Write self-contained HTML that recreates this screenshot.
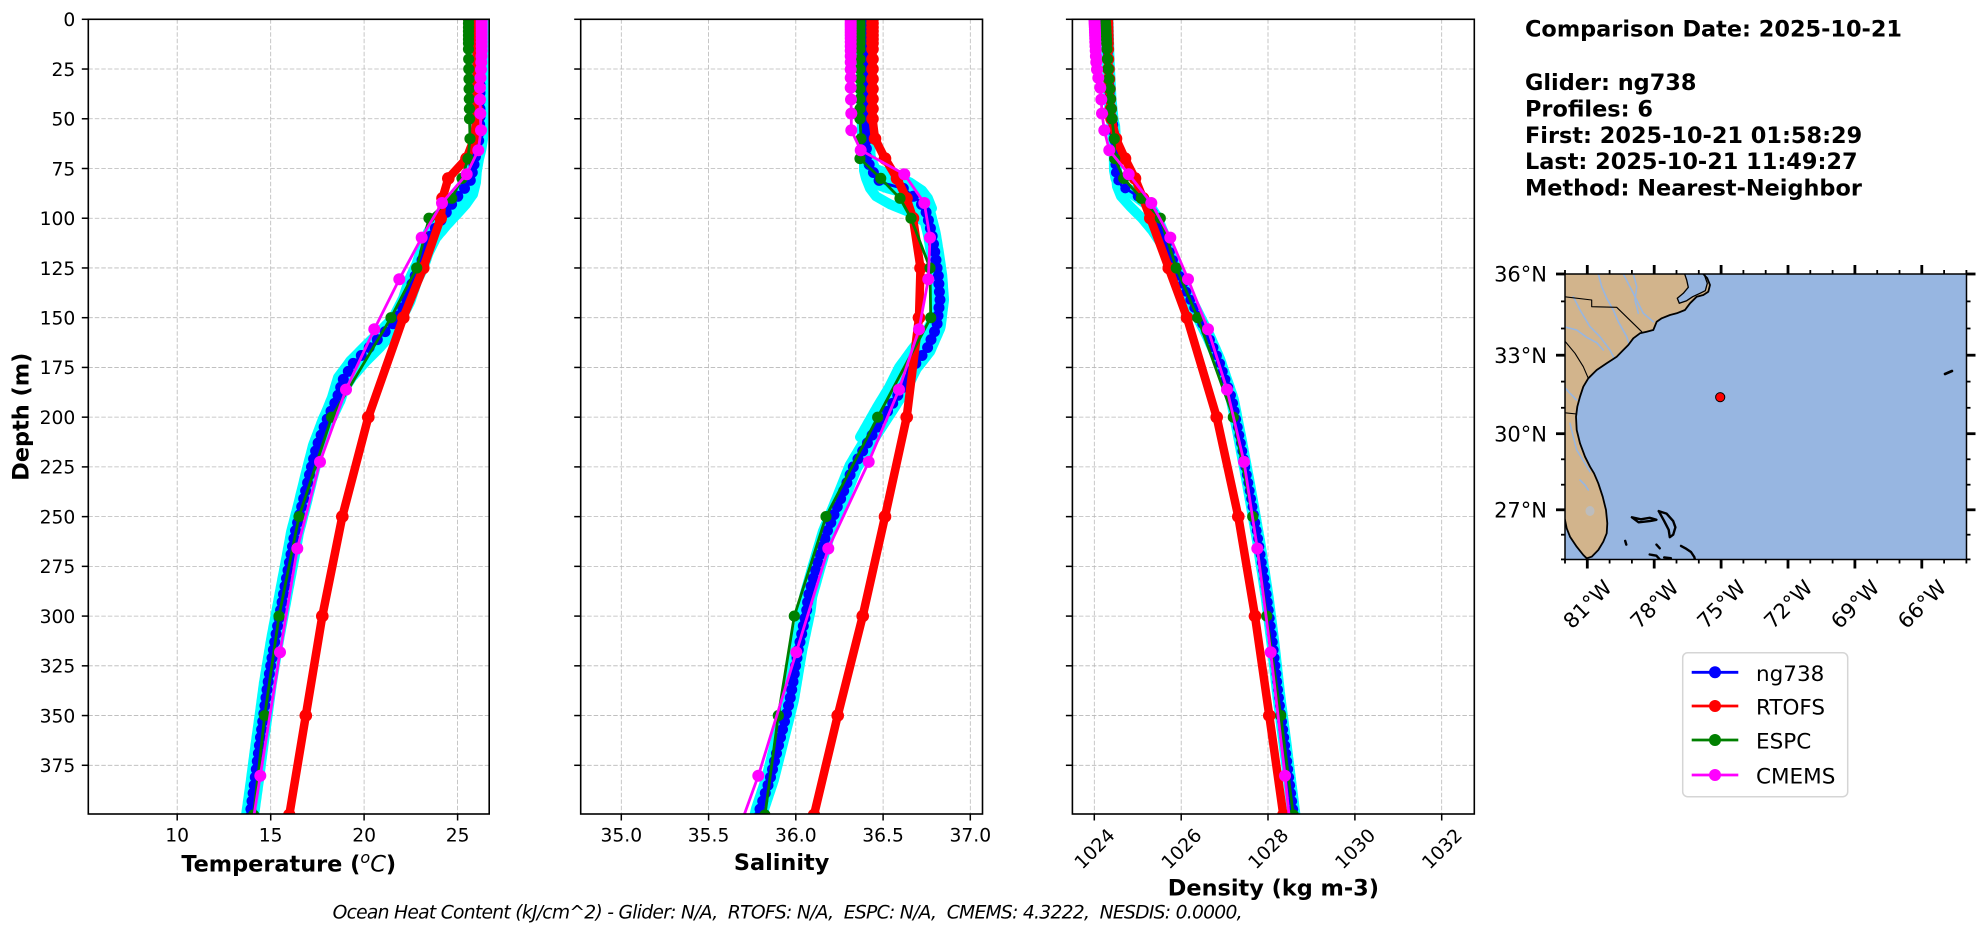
<!DOCTYPE html>
<html><head><meta charset="utf-8">
<style>
html,body{margin:0;padding:0;background:#fff;width:1978px;height:934px;overflow:hidden;}
svg{display:block;}
text{font-family:"DejaVu Sans","Liberation Sans",sans-serif;fill:#000;}
.t{font-size:18.7px;}
.lab{font-size:22.4px;font-weight:bold;}
.info{font-size:22.4px;font-weight:bold;}
.mt{font-size:21px;}
.lg{font-size:21.5px;}
</style></head><body>
<svg id="fig" xmlns="http://www.w3.org/2000/svg" width="1978" height="934" viewBox="0 0 1978 934">
<rect width="1978" height="934" fill="#fff"/>
<defs>
<clipPath id="c0"><rect x="88.3" y="19.3" width="400.9" height="794.7"/></clipPath>
<clipPath id="c1"><rect x="580.7" y="19.3" width="401.8" height="794.7"/></clipPath>
<clipPath id="c2"><rect x="1072.4" y="19.3" width="401.9" height="794.7"/></clipPath>
<clipPath id="cm"><rect x="1565" y="274" width="401.5" height="285.5"/></clipPath>
</defs>
<g id="grid" stroke="#b8b8b8" stroke-width="0.8" stroke-dasharray="4.5 2" fill="none"></g>
<g id="data0" clip-path="url(#c0)"></g>
<g id="data1" clip-path="url(#c1)"></g>
<g id="data2" clip-path="url(#c2)"></g>
<g fill="none" stroke="#000" stroke-width="1.6">
<rect x="88.3" y="19.3" width="400.9" height="794.7"/>
<rect x="580.7" y="19.3" width="401.8" height="794.7"/>
<rect x="1072.4" y="19.3" width="401.9" height="794.7"/>
</g>
<g id="ticks" stroke="#000" stroke-width="1.5"></g>

<!-- y tick labels -->
<g class="t" text-anchor="end">
<text x="75.3" y="26.1">0</text>
<text x="75.3" y="75.8">25</text>
<text x="75.3" y="125.6">50</text>
<text x="75.3" y="175.3">75</text>
<text x="75.3" y="225.0">100</text>
<text x="75.3" y="274.8">125</text>
<text x="75.3" y="324.5">150</text>
<text x="75.3" y="374.2">175</text>
<text x="75.3" y="424.0">200</text>
<text x="75.3" y="473.7">225</text>
<text x="75.3" y="523.4">250</text>
<text x="75.3" y="573.2">275</text>
<text x="75.3" y="622.9">300</text>
<text x="75.3" y="672.6">325</text>
<text x="75.3" y="722.4">350</text>
<text x="75.3" y="772.1">375</text>
</g>
<!-- x tick labels -->
<g class="t" text-anchor="middle">
<text x="177.2" y="841.7">10</text>
<text x="270.7" y="841.7">15</text>
<text x="364.1" y="841.7">20</text>
<text x="457.6" y="841.7">25</text>
<text x="621.3" y="841.7">35.0</text>
<text x="708.6" y="841.7">35.5</text>
<text x="795.8" y="841.7">36.0</text>
<text x="883.1" y="841.7">36.5</text>
<text x="970.3" y="841.7">37.0</text>
<text x="0" y="6.8" transform="translate(1094.3,848.5) rotate(-45)">1024</text>
<text x="0" y="6.8" transform="translate(1181.2,848.5) rotate(-45)">1026</text>
<text x="0" y="6.8" transform="translate(1268.0,848.5) rotate(-45)">1028</text>
<text x="0" y="6.8" transform="translate(1354.9,848.5) rotate(-45)">1030</text>
<text x="0" y="6.8" transform="translate(1441.7,848.5) rotate(-45)">1032</text>
</g>
<!-- axis labels -->
<text class="lab" x="0" y="0" text-anchor="middle" transform="translate(28.5,416.7) rotate(-90)">Depth (m)</text>
<text class="lab" x="288.7" y="871.7" text-anchor="middle">Temperature (<tspan font-style="italic" font-weight="normal" font-size="16" dy="-8.5">o</tspan><tspan font-style="italic" font-weight="normal" dy="8.5">C</tspan>)</text>
<text class="lab" x="781.6" y="870" text-anchor="middle">Salinity</text>
<text class="lab" x="1273.4" y="895.7" text-anchor="middle">Density (kg m-3)</text>

<text x="332.6" y="918.3" font-size="18.7" font-style="italic" style="white-space:pre" textLength="910" lengthAdjust="spacing">Ocean Heat Content (kJ/cm^2) - Glider: N/A,  RTOFS: N/A,  ESPC: N/A,  CMEMS: 4.3222,  NESDIS: 0.0000,</text>

<!-- info -->
<g class="info">
<text x="1525" y="36.7">Comparison Date: 2025-10-21</text>
<text x="1525" y="90">Glider: ng738</text>
<text x="1525" y="116.4">Profiles: 6</text>
<text x="1525" y="142.8">First: 2025-10-21 01:58:29</text>
<text x="1525" y="169.2">Last: 2025-10-21 11:49:27</text>
<text x="1525" y="195.6">Method: Nearest-Neighbor</text>
</g>

<!-- map -->
<g id="mapdata" clip-path="url(#cm)"></g>
<rect x="1565" y="274" width="401.5" height="285.5" fill="none" stroke="#000" stroke-width="1.5"/>
<g id="mapticks" stroke="#000"></g>
<g class="mt" text-anchor="end">
<text x="1547" y="281.6">36°N</text>
<text x="1547" y="362.8">33°N</text>
<text x="1547" y="441.3">30°N</text>
<text x="1547" y="517.4">27°N</text>
</g>
<g class="mt" text-anchor="middle">
<text x="0" y="7.6" transform="translate(1587.3,604) rotate(-45)">81°W</text>
<text x="0" y="7.6" transform="translate(1654.2,604) rotate(-45)">78°W</text>
<text x="0" y="7.6" transform="translate(1721.1,604) rotate(-45)">75°W</text>
<text x="0" y="7.6" transform="translate(1788.0,604) rotate(-45)">72°W</text>
<text x="0" y="7.6" transform="translate(1854.9,604) rotate(-45)">69°W</text>
<text x="0" y="7.6" transform="translate(1921.8,604) rotate(-45)">66°W</text>
</g>

<!-- legend -->
<rect x="1682.7" y="652.7" width="165" height="144" rx="5" fill="#fff" fill-opacity="0.8" stroke="#d5d5d5" stroke-width="1.5"/>
<g stroke-width="2.8">
<line x1="1691.7" x2="1738.3" y1="672.3" y2="672.3" stroke="#0000ff"/>
<line x1="1691.7" x2="1738.3" y1="706" y2="706" stroke="#ff0000"/>
<line x1="1691.7" x2="1738.3" y1="740" y2="740" stroke="#008000"/>
<line x1="1691.7" x2="1738.3" y1="775" y2="775" stroke="#ff00ff"/>
</g>
<circle cx="1715" cy="672.3" r="6" fill="#0000ff"/>
<circle cx="1715" cy="706" r="6" fill="#ff0000"/>
<circle cx="1715" cy="740" r="6" fill="#008000"/>
<circle cx="1715" cy="775" r="6" fill="#ff00ff"/>
<g class="lg">
<text x="1756" y="680.8">ng738</text>
<text x="1756" y="714.5">RTOFS</text>
<text x="1756" y="748.5">ESPC</text>
<text x="1756" y="783.5">CMEMS</text>
</g>
</svg>
<script>
(function(){
const NS='http://www.w3.org/2000/svg';
function mk(tag,a,p){const e=document.createElementNS(NS,tag);for(const k in a)e.setAttribute(k,a[k]);p.appendChild(e);return e;}
const Y=d=>19.3+d*1.9893;
const PAN=[[88.3,489.2],[580.7,982.5],[1072.4,1474.3]];
const XT=[[177.2,270.7,364.1,457.6],[621.3,708.6,795.8,883.1,970.3],[1094.3,1181.2,1268.0,1354.9,1441.7]];
const grid=document.getElementById('grid'),ticks=document.getElementById('ticks');
for(let p=0;p<3;p++){
  const x0=PAN[p][0],x1=PAN[p][1];
  for(let d=0;d<=375;d+=25){const y=Y(d).toFixed(2);
    mk('line',{x1:x0,x2:x1,y1:y,y2:y},grid);
    mk('line',{x1:x0-6.5,x2:x0,y1:y,y2:y},ticks);}
  for(const x of XT[p]){mk('line',{x1:x,x2:x,y1:19.3,y2:814},grid);mk('line',{x1:x,x2:x,y1:814,y2:820.5},ticks);}
}
function interp(arr,d){if(d<=arr[0][0])return arr[0][1];for(let i=1;i<arr.length;i++){if(d<=arr[i][0]){const a=arr[i-1],b=arr[i];return a[1]+(b[1]-a[1])*(d-a[0])/(b[0]-a[0]);}}const n=arr.length,a=arr[n-2],b=arr[n-1];return b[1]+(b[1]-a[1])*(d-b[0])/(b[0]-a[0]);}
function pstr(pts){return pts.map(p=>p[0].toFixed(1)+','+p[1].toFixed(1)).join(' ');}
function poly(pts,stroke,w,parent){mk('polyline',{points:pstr(pts),fill:'none',stroke:stroke,'stroke-width':w,'stroke-linejoin':'round','stroke-linecap':'round'},parent);}
const LV_H=[0,2,4,6,8,10,12,15,20,25,30,35,40,45,50,60,70,80,90,100,125,150,200,250,300,350,400];
const LV_C=[0.49,1.54,2.65,3.82,5.08,6.44,7.93,9.57,11.4,13.47,15.81,18.5,21.6,25.21,29.44,34.43,40.34,47.37,55.76,65.81,77.85,92.33,109.73,130.67,155.85,186.13,222.48,266.04,318.13,380.21,453.94];

const DATA=[
{ // temperature
G:[[0,480],[50,480],[60,479],[65,477.5],[70,475],[75,473.3],[81.6,470],[86.7,461.7],[91.7,453.3],[96.7,446.7],[101.7,440],[107.6,431.7],[115,426],[124,420],[131,413.3],[141,406.7],[151,396.7],[158,383.3],[164.6,370],[173,353.3],[181,343.3],[191,336.7],[201.5,326.7],[214.8,316.7],[228,310],[245,301.7],[258,295],[271.8,290],[285,285],[298.6,280],[312,275],[322,271.7],[333.8,267.9],[350.6,263.4],[367,258.9],[384,254.5],[397,250.9],[410,247.5]],
R:[[0,477],[50,476.5],[60,474],[70,466.5],[80,448.3],[90,442.5],[100,440.7],[125,423.3],[150,403.3],[200,368.3],[250,342.3],[300,322.3],[350,305.8],[400,289.3],[450,273]],
E:[[0,468.5],[15,468.5],[30,469],[50,469.5],[60,470],[70,468],[80,462],[90,451.7],[100,429],[125,416.7],[150,391],[200,331.7],[250,299],[300,279],[350,264.7],[400,253.6],[450,242]],
C:[[0,481.7],[15.81,481.7],[25.21,481],[34.43,480],[40.34,480],[47.37,480.3],[55.76,481],[65.81,478.3],[77.85,466.7],[92.33,442],[109.73,421.7],[130.67,399.3],[155.85,374.3],[186.13,346],[222.48,320],[266.04,297.3],[318.13,280],[380.21,260.3],[453.94,236.9]],
X:[[[60,479],[75,477],[82,476],[88,473],[93,466],[98,457],[104,446],[110,436],[118,428]],[[150,402],[158,392],[165,380],[172,366],[180,352],[188,342]],[[155,388],[165,366],[172,350],[180,338],[190,332],[200,324]]],
cw:18
},
{ // salinity
G:[[0,865],[40,865.3],[60,866],[69,866.7],[72,868.3],[75.8,871.7],[81.6,880],[83.3,890],[85,903.3],[89,913.3],[91.7,920],[97.5,926.7],[107.6,931.7],[117.6,935],[129,938.3],[141,940],[154.5,936.7],[166,926.7],[174.6,913.3],[184.7,903.3],[196.4,888.3],[208,873.3],[225,853.3],[241.7,840],[258,826.7],[275,816.7],[290,808.3],[297,806.7],[317,798.3],[342,790],[362,780],[382,770],[397,760],[410,754]],
R:[[0,872.5],[50,872.5],[60,875],[70,885],[80,897],[90,906.5],[100,913],[125,920.5],[150,919],[200,906.7],[250,885],[300,862.7],[350,837.7],[400,814],[450,790]],
E:[[0,860],[50,860],[60,861],[70,860],[80,880.7],[90,900],[100,911],[125,930],[150,930.7],[200,877.7],[250,826],[300,794.3],[350,778.3],[400,765],[450,752]],
C:[[0,850.7],[34.43,850.7],[40.34,851],[47.37,851.3],[55.76,851.3],[65.81,860.7],[77.85,904.3],[92.33,924.3],[109.73,930],[130.67,928.3],[155.85,919],[186.13,899],[222.48,868.7],[266.04,828.3],[318.13,796.3],[380.21,758.3],[453.94,705.4]],
X:[[[68,864],[76,864],[80,866],[85,870],[89,876],[93,890],[97,910],[102,925]],[[74,870],[78,890],[82,910],[86,922],[90,928],[95,932]],[[150,934],[158,925],[166,912],[175,899],[185,889],[195,877],[210,860]]],
cw:18
},
{ // density
G:[[0,1107],[20,1108],[40,1110],[50,1112],[54,1113.7],[70,1115.3],[76,1115.5],[80,1117],[84,1122],[87.5,1133.7],[92.5,1147],[99,1155.3],[111,1165.3],[124,1175.3],[137.7,1187],[149.5,1198.7],[159.5,1208.7],[171,1218.7],[188,1230.3],[191,1232.3],[208,1239],[233,1248.3],[262,1258.5],[291,1267.3],[316,1273.5],[341,1279],[366,1285.5],[391,1291.7],[410,1296.5]],
R:[[0,1107],[20,1108],[30,1109],[40,1110],[50,1111.5],[60,1116],[70,1125],[80,1135],[90,1143],[100,1150.3],[125,1168.7],[150,1187],[200,1216.7],[250,1238.3],[300,1255],[350,1269.3],[400,1283.3],[450,1297]],
E:[[0,1105.3],[10,1106.5],[20,1107.5],[30,1109],[40,1110.5],[50,1112],[60,1114.3],[70,1114.7],[80,1123.7],[90,1141.3],[100,1160.3],[125,1176.3],[150,1197.7],[200,1233.3],[250,1252.7],[300,1266.7],[350,1280.7],[400,1293.3],[450,1306]],
C:[[0,1094.5],[10,1095.2],[20,1096],[25.21,1097],[29.44,1098.3],[34.43,1100.3],[40.34,1101.3],[47.37,1102],[55.76,1104.3],[65.81,1109.3],[77.85,1128.7],[92.33,1151.3],[109.73,1170.3],[130.67,1188],[155.85,1208],[186.13,1227],[222.48,1244],[266.04,1257.3],[318.13,1270.7],[380.21,1285],[453.94,1300]],
X:[[[78,1116],[84,1117],[89,1121],[94,1130],[100,1142],[106,1152],[112,1160]]],
cw:13
}];

for(let p=0;p<3;p++){
  const D=DATA[p],g=document.getElementById('data'+p);
  const gp=[];for(let d=0;d<=412;d+=1)gp.push([interp(D.G,d),Y(d)]);
  poly(gp,'#00ffff',D.cw,g);
  for(const ex of D.X){const pts=[];for(let d=ex[0][0];d<=ex[ex.length-1][0];d+=1)pts.push([interp(ex,d),Y(d)]);poly(pts,'#00ffff',10,g);}
  poly(gp,'#0000ff',2.8,g);
  for(let d=1;d<=410;d+=4)mk('circle',{cx:interp(D.G,d).toFixed(1),cy:Y(d).toFixed(1),r:(p==2?5:5.5),fill:'#0000ff'},g);
  const lvR=LV_H.concat([450]);
  const rp=lvR.map(d=>[interp(D.R,d),Y(d)]);
  poly(rp,'#ff0000',8.5,g);
  for(const q of rp)mk('circle',{cx:q[0].toFixed(1),cy:q[1].toFixed(1),r:6.3,fill:'#ff0000'},g);
  const lvE=LV_H.concat([450]);
  const ep=lvE.map(d=>[interp(D.E,d),Y(d)]);
  poly(ep,'#008000',2.8,g);
  for(const q of ep)mk('circle',{cx:q[0].toFixed(1),cy:q[1].toFixed(1),r:5.6,fill:'#008000'},g);
  const cp=LV_C.map(d=>[interp(D.C,d),Y(d)]);
  poly(cp,'#ff00ff',2.8,g);
  for(const q of cp)mk('circle',{cx:q[0].toFixed(1),cy:q[1].toFixed(1),r:6,fill:'#ff00ff'},g);
}

// ---------- map ----------
const map=document.getElementById('mapdata'),mt=document.getElementById('mapticks');
const MX=lon=>1587.3+(lon+81)*22.3;
const merc=l=>Math.log(Math.tan(Math.PI/4+l*Math.PI/360));
const MY=lat=>274+1277.7*(merc(36)-merc(lat));
const Z=a=>[1470+a[0]/3,250+a[1]/3];
const G=a=>[MX(a[0]),MY(a[1])];
mk('rect',{x:1565,y:274,width:401.5,height:285.5,fill:'#97b6e1'},map);
const coast=[[700,72],[712,85],[720,105],[715,125],[700,135],[680,140],[660,160],[645,180],[620,190],[600,195],[575,205],[560,215],[550,240],[530,245],[510,250],[490,265],[475,285],[460,300],[440,320],[410,340],[380,360],[355,385],[340,410],[330,440],[322,470],[318,500],[320,540],[330,580],[345,620],[360,650],[372,670],[385,700],[398,740],[408,780],[412,820],[410,850],[400,875],[385,900],[365,920],[350,925],[340,915],[320,890],[300,860],[290,835],[285,810],[282,800]];
const landPts=coast.map(Z).concat([[1550,516],[1550,260],[1710,260]]);
mk('polygon',{points:pstr(landPts),fill:'#d2b48c',stroke:'none'},map);
const sound=[[640,60],[700,60],[705,80],[712,100],[706,122],[690,130],[668,140],[650,152],[628,160],[622,145],[640,130],[655,112],[650,90]].map(Z);
mk('polygon',{points:pstr(sound),fill:'#97b6e1',stroke:'#000','stroke-width':1.3,'stroke-linejoin':'round'},map);
const rivers=[
[[385,72],[395,110],[410,145],[430,180],[445,215],[470,260],[480,290]],
[[460,72],[480,110],[500,150],[520,190],[550,215]],
[[310,140],[330,180],[360,230],[390,260],[420,300],[435,330]],
[[282,230],[320,240],[350,262],[380,278],[400,300]],
[[282,410],[300,430],[320,450]],
[[300,520],[310,560],[320,600],[345,640],[360,665]],
[[490,72],[500,110],[495,150],[505,190]],
[[330,690],[345,705],[355,720]]];
for(const r of rivers)poly(r.map(Z),'#97b6e1',1.6,map);
mk('ellipse',{cx:1590,cy:511,rx:4.5,ry:5,fill:'#bdbdbd'},map);
poly(coast.map(Z),'#000',1.8,map);
const borders=[
[[282,140],[365,150],[365,170],[440,172],[515,245]],
[[282,270],[315,310],[340,350],[355,385]],
[[282,488],[320,492]]];
for(const b of borders)poly(b.map(Z),'#000',1.1,map);
const isl=[
[[-79.0,26.7],[-78.6,26.62],[-78.2,26.68],[-77.9,26.6],[-78.2,26.55],[-78.7,26.5],[-79.0,26.7]],
[[-77.8,26.95],[-77.45,26.85],[-77.15,26.55],[-77.05,26.3],[-77.15,26.0],[-77.3,25.9],[-77.35,26.2],[-77.55,26.55],[-77.8,26.95]],
[[-79.3,25.75],[-79.25,25.6]],
[[-78.2,25.2],[-77.9,25.15],[-77.75,25.0],[-78.0,24.9]],
[[-77.9,25.6],[-77.75,25.45]],
[[-76.8,25.55],[-76.6,25.45],[-76.35,25.3],[-76.2,25.1],[-76.15,24.9]],
[[-77.55,25.08],[-77.25,25.05]]];
for(const s of isl)poly(s.map(G),'#000',2.4,map);
poly([[1945,374],[1952,371]],'#000',2.6,map);
mk('circle',{cx:1720.2,cy:397.2,r:4.6,fill:'#ff0000',stroke:'#000','stroke-width':1},map);
const L=1565,R=1966.5,T=274,B=559.5;
for(let lon=-82;lon<=-64;lon++){
  const maj=[-81,-78,-75,-72,-69,-66].includes(lon);const x=MX(lon).toFixed(1);const len=maj?9:4,w=maj?2.8:1.8;
  mk('line',{x1:x,x2:x,y1:T-len,y2:T,'stroke-width':w},mt);
  mk('line',{x1:x,x2:x,y1:B,y2:B+len,'stroke-width':w},mt);
}
for(let lat=25;lat<=36;lat++){
  const maj=[36,33,30,27].includes(lat);const y=MY(lat).toFixed(1);const len=maj?9:4,w=maj?2.8:1.8;
  mk('line',{x1:L-len,x2:L,y1:y,y2:y,'stroke-width':w},mt);
  mk('line',{x1:R,x2:R+len,y1:y,y2:y,'stroke-width':w},mt);
}
})();
</script>
</body></html>
